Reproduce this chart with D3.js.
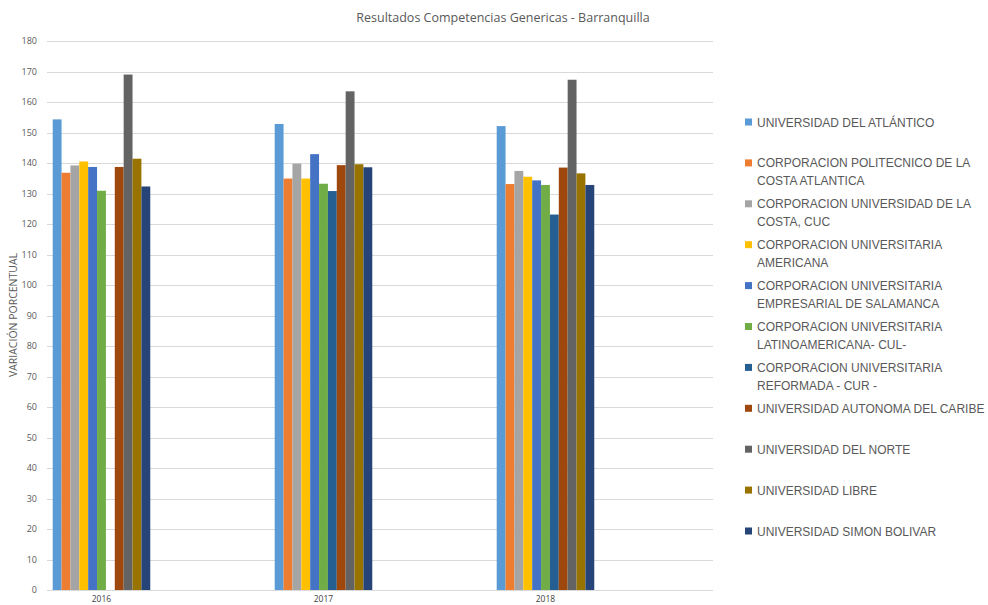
<!DOCTYPE html>
<html>
<head>
<meta charset="utf-8">
<script src="https://cdn.jsdelivr.net/npm/d3@7"></script>
<style>
  body { margin: 0; background: #fff; }
  svg { display: block; font-family: "Open Sans", "Liberation Sans", sans-serif; }
</style>
</head>
<body>
<svg id="chart" width="988" height="605"></svg>
<script>
const title = "Resultados Competencias Genericas - Barranquilla";
const yAxisTitle = "VARIACIÓN PORCENTUAL";
const years = ["2016", "2017", "2018"];
const seriesNames = [
  "UNIVERSIDAD DEL ATLÁNTICO",
  "CORPORACION POLITECNICO DE LA COSTA ATLANTICA",
  "CORPORACION UNIVERSIDAD DE LA COSTA, CUC",
  "CORPORACION UNIVERSITARIA AMERICANA",
  "CORPORACION UNIVERSITARIA EMPRESARIAL DE SALAMANCA",
  "CORPORACION UNIVERSITARIA LATINOAMERICANA- CUL-",
  "CORPORACION UNIVERSITARIA REFORMADA - CUR -",
  "UNIVERSIDAD AUTONOMA DEL CARIBE",
  "UNIVERSIDAD DEL NORTE",
  "UNIVERSIDAD LIBRE",
  "UNIVERSIDAD SIMON BOLIVAR"
];
// legend text broken in lines as in the reference
const legendLines = [
  ["UNIVERSIDAD DEL ATLÁNTICO"],
  ["CORPORACION POLITECNICO DE LA", "COSTA ATLANTICA"],
  ["CORPORACION UNIVERSIDAD DE LA", "COSTA, CUC"],
  ["CORPORACION UNIVERSITARIA", "AMERICANA"],
  ["CORPORACION UNIVERSITARIA", "EMPRESARIAL DE SALAMANCA"],
  ["CORPORACION UNIVERSITARIA", "LATINOAMERICANA- CUL-"],
  ["CORPORACION UNIVERSITARIA", "REFORMADA - CUR -"],
  ["UNIVERSIDAD AUTONOMA DEL CARIBE"],
  ["UNIVERSIDAD DEL NORTE"],
  ["UNIVERSIDAD LIBRE"],
  ["UNIVERSIDAD SIMON BOLIVAR"]
];
const colors = ["#5B9BD5", "#ED7D31", "#A5A5A5", "#FFC000", "#4472C4", "#70AD47",
                "#255E91", "#9E480E", "#636363", "#997300", "#264478"];
// values per series: [2016, 2017, 2018]  (null = no value)
const vAtlantico   = [154.3, 152.8, 152.1];
const vPolitecnico = [136.8, 134.9, 133.1];
const vCUC         = [139.2, 139.8, 137.4];
const vAmericana   = [140.5, 134.9, 135.5];
const vSalamanca   = [138.7, 142.9, 134.3];
const vCUL         = [130.9, 133.2, 132.8];
const vCUR         = [null, 130.8, 123.1];
const vAutonoma    = [138.7, 139.3, 138.5];
const vNorte       = [169.0, 163.5, 167.3];
const vLibre       = [141.4, 139.6, 136.6];
const vSimon       = [132.3, 138.6, 132.8];
const seriesValues = [vAtlantico, vPolitecnico, vCUC, vAmericana, vSalamanca, vCUL,
                      vCUR, vAutonoma, vNorte, vLibre, vSimon];
const yTicks = d3.range(0, 181, 10);

const svg = d3.select("#chart");
const plot = { left: 47, right: 713, top: 41, bottom: 590 };

const x0 = d3.scaleBand().domain(years).range([plot.left, plot.right]);
const x1 = d3.scaleBand().domain(d3.range(seriesNames.length)).range([5.7, 5.7 + 11 * 8.87]);
const y = d3.scaleLinear().domain([0, 180]).range([plot.bottom, plot.top]);

// gridlines
svg.append("g").selectAll("line").data(yTicks.filter(d => d > 0)).join("line")
  .attr("x1", plot.left).attr("x2", plot.right)
  .attr("y1", d => Math.round(y(d)) + 0.5).attr("y2", d => Math.round(y(d)) + 0.5)
  .attr("stroke", "#d9d9d9").attr("stroke-width", 1);

// y tick labels
const yAxis = d3.axisLeft(y).tickValues(yTicks).tickSize(0).tickPadding(10);
const gy = svg.append("g").attr("transform", `translate(${plot.left},0)`).call(yAxis);
gy.select(".domain").remove();
gy.selectAll("text").attr("fill", "#595959").style("font-size", "9px")
  .style("font-family", "'Open Sans', sans-serif");

// bars
const data = [];
seriesValues.forEach((vals, si) => vals.forEach((v, yi) => {
  if (v != null) data.push({ s: si, year: years[yi], v });
}));
svg.append("g").selectAll("rect").data(data).join("rect")
  .attr("x", d => x0(d.year) + x1(d.s))
  .attr("width", x1.bandwidth())
  .attr("y", d => y(d.v))
  .attr("height", d => y(0) - y(d.v))
  .attr("fill", d => colors[d.s]);

// x axis line
svg.append("line").attr("x1", plot.left).attr("x2", plot.right)
  .attr("y1", plot.bottom + 0.5).attr("y2", plot.bottom + 0.5)
  .attr("stroke", "#d9d9d9");

// x labels under groups
svg.append("g").selectAll("text").data(years).join("text")
  .attr("x", d => x0(d) + (x1.range()[0] + x1.range()[1]) / 2)
  .attr("y", 602)
  .attr("text-anchor", "middle")
  .attr("fill", "#404040")
  .style("font-size", "8.5px")
  .text(d => d);

// title
svg.append("text").attr("x", 503).attr("y", 22).attr("text-anchor", "middle")
  .attr("fill", "#595959").style("font-size", "12.5px").text(title);

// y axis title
svg.append("text").attr("transform", "translate(17,315) rotate(-90)")
  .attr("text-anchor", "middle").attr("fill", "#595959")
  .style("font-size", "10.5px").text(yAxisTitle);

// legend
const leg = svg.append("g").selectAll("g").data(legendLines).join("g")
  .attr("transform", (d, i) => `translate(745,${122 + i * 40.9})`);
leg.append("rect").attr("x", 0).attr("y", -3.5).attr("width", 7).attr("height", 7)
  .attr("fill", (d, i) => colors[i]);
leg.append("text").attr("fill", "#595959").style("font-size", "12px")
  .style("font-family", "'Liberation Sans', sans-serif")
  .selectAll("tspan").data(d => d).join("tspan")
  .attr("x", 12).attr("y", (d, i) => 4.5 + i * 18).text(d => d);
</script>
</body>
</html>
